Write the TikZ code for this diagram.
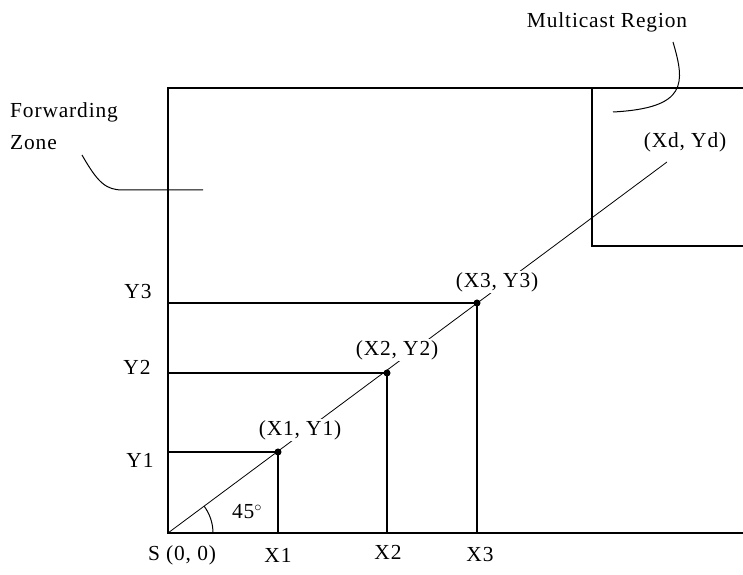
\documentclass[tikz,border=0pt]{standalone}
\usepackage{fontspec}
\setmainfont[LetterSpace=4]{Liberation Serif}
\begin{document}
\begin{tikzpicture}[x=100bp,y=100bp,
    rotulo/.style={font=\fontsize{21.5}{24}\selectfont, inner sep=1bp},
    punto/.style={rotulo, fill=white},
    borde/.style={line width=1.6bp},
    guia/.style={line width=1bp}]
    \useasboundingbox (-1.68,-0.42) rectangle (5.75,5.33);

    % Zona de reenvio (se sale por la derecha)
    \draw[borde] (5.75,4.45) -- (0,4.45) -- (0,0) -- (5.75,0);

    % Region multicast
    \draw[borde] (5.75,2.87) -- (4.24,2.87) -- (4.24,4.45);

    % Origen y puntos intermedios
    \coordinate (S) at (0,0);
    \coordinate (p1) at (1.10,0.81);
    \coordinate (p2) at (2.19,1.60);
    \coordinate (p3) at (3.09,2.30);
    \coordinate (pd) at (4.99,3.71);

    % Recta de S hacia el destino
    \draw[line width=0.8bp] (S) -- (pd);

    % Proyecciones sobre los ejes
    \coordinate (y1) at (0,0.81);
    \coordinate (y2) at (0,1.60);
    \coordinate (y3) at (0,2.30);
    \coordinate (x1) at (1.10,0);
    \coordinate (x2) at (2.19,0);
    \coordinate (x3) at (3.09,0);
    \draw[borde] (y1) -- (p1) -- (x1);
    \draw[borde] (y2) -- (p2) -- (x2);
    \draw[borde] (y3) -- (p3) -- (x3);
    \fill (p1) circle (3.5bp);
    \fill (p2) circle (3.5bp);
    \fill (p3) circle (3.5bp);

    % Angulo de 45 grados
    \draw[line width=1bp] (0.45,0) arc (0:36.4:0.45);
    \node[rotulo] (ang) at (0.79,0.21) {45$^\circ$};

    % Rotulos de los puntos
    \node[punto] (lp1) at (1.32,1.03) {(X1, Y1)};
    \node[punto] (lp2) at (2.29,1.83) {(X2, Y2)};
    \node[punto] (lp3) at (3.29,2.51) {(X3, Y3)};
    \node[punto] (lpd) at (5.17,3.91) {(Xd, Yd)};

    % Rotulos de los ejes
    \node[rotulo] (lS) at (0.14,-0.22) {S (0, 0)};
    \node[rotulo] (lx1) at (1.10,-0.22) {X1};
    \node[rotulo] (lx2) at (2.20,-0.19) {X2};
    \node[rotulo] (lx3) at (3.12,-0.22) {X3};
    \node[rotulo] (ly1) at (-0.28,0.73) {Y1};
    \node[rotulo] (ly2) at (-0.31,1.66) {Y2};
    \node[rotulo] (ly3) at (-0.30,2.41) {Y3};

    % Leyendas con su trazo
    \node[rotulo, align=left, anchor=west, font=\fontsize{21.5}{32}\selectfont]
        (fz) at (-1.59,4.07) {Forwarding\\Zone};
    \coordinate (fz0) at (-0.86,3.78);
    \coordinate (fz1) at (0.35,3.43);
    \draw[guia] (fz0) .. controls (-0.70,3.50) and (-0.62,3.43) .. (-0.45,3.43) -- (fz1);

    \node[rotulo] (mr) at (4.39,5.11) {Multicast Region};
    \coordinate (mr0) at (5.05,4.91);
    \coordinate (mr1) at (4.45,4.21);
    \draw[guia] (mr0) .. controls (5.17,4.50) and (5.20,4.25) .. (mr1);
\end{tikzpicture}
\end{document}
